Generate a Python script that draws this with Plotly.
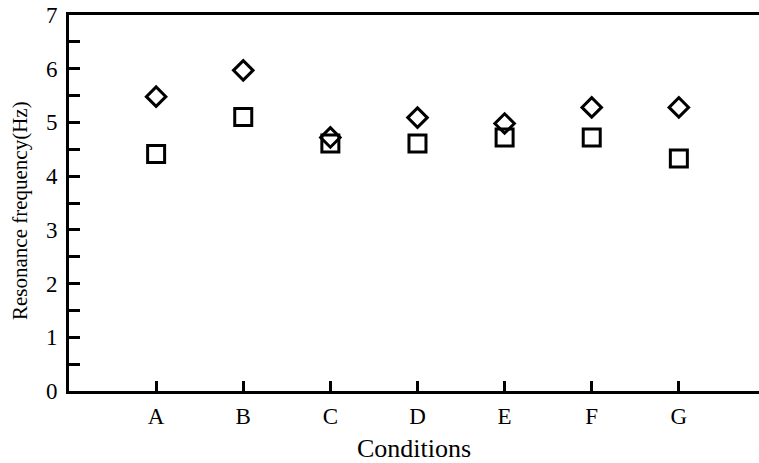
import plotly.graph_objects as go

# Resonance frequency per test condition
conditions = ["A", "B", "C", "D", "E", "F", "G"]
freq_square = [4.41, 5.10, 4.61, 4.61, 4.72, 4.72, 4.33]
freq_diamond = [5.48, 5.97, 4.72, 5.09, 4.98, 5.28, 5.28]
y_ticks = [0, 1, 2, 3, 4, 5, 6, 7]

xpos = list(range(1, len(conditions) + 1))
FONT = "Liberation Serif, Times New Roman, serif"

W, H = 759, 463
ML, MR, MT, MB = 69, 0, 15, 72
plot_w = W - ML - MR
plot_h = H - MT - MB

fig = go.Figure()
fig.add_trace(go.Scatter(
    x=xpos, y=freq_square, mode="markers",
    marker=dict(symbol="square-open", size=17, color="black",
                line=dict(width=3, color="black")),
    showlegend=False,
))
fig.add_trace(go.Scatter(
    x=xpos, y=freq_diamond, mode="markers",
    marker=dict(symbol="diamond-open", size=15, color="black",
                line=dict(width=3, color="black")),
    showlegend=False,
))

# vertical axis title, placed in paper coordinates from pixel offsets
fig.add_annotation(
    text="Resonance frequency(Hz)", textangle=-90,
    xref="paper", yref="paper",
    x=(20 - ML) / plot_w, y=(H - MB - 211) / plot_h,
    xanchor="center", yanchor="middle", showarrow=False,
    font=dict(size=21, family=FONT, color="black"),
)

fig.update_layout(
    width=W, height=H,
    margin=dict(l=ML, r=MR, t=MT, b=MB),
    plot_bgcolor="white", paper_bgcolor="white",
    font=dict(family=FONT, color="black"),
    xaxis=dict(
        range=[0, 7.92],
        tickmode="array", tickvals=xpos, ticktext=conditions,
        ticks="inside", ticklen=10, tickwidth=3, tickcolor="black",
        ticklabelstandoff=2,
        showline=True, linewidth=3, linecolor="black", mirror=True,
        showgrid=False, zeroline=False,
        tickfont=dict(size=23, family=FONT),
        title=dict(text="Conditions", font=dict(size=26, family=FONT), standoff=14),
    ),
    yaxis=dict(
        range=[0, 7],
        tickmode="array", tickvals=y_ticks,
        ticks="inside", ticklen=11, tickwidth=3, tickcolor="black",
        ticklabelstandoff=4,
        minor=dict(dtick=0.5, ticks="inside", ticklen=11, tickwidth=3, tickcolor="black"),
        showline=True, linewidth=3, linecolor="black",
        showgrid=False, zeroline=False,
        tickfont=dict(size=23, family=FONT),
    ),
)

fig.write_html("out.html")
